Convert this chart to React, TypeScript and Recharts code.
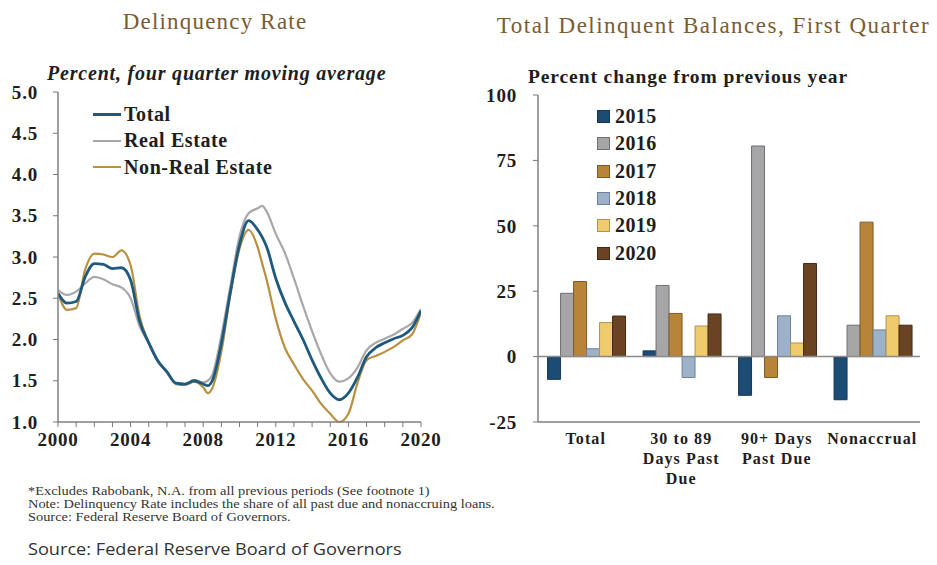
import React from 'react';
import { LineChart, Line, XAxis, YAxis, BarChart, Bar, ReferenceLine, Legend } from 'recharts';

// ---------- Left chart: Delinquency rate (percent, four quarter moving average) ----------
const periods = [
  2000, 2000.5, 2001, 2001.5, 2002, 2002.5, 2003, 2003.5, 2004, 2004.5,
  2005, 2005.5, 2006, 2006.5, 2007, 2007.5, 2008, 2008.25, 2008.5, 2009,
  2009.5, 2010, 2010.5, 2011, 2011.25, 2011.5, 2012, 2012.5, 2013, 2013.5,
  2014, 2014.5, 2015, 2015.5, 2016, 2016.5, 2017, 2017.5, 2018, 2018.5,
  2019, 2019.5, 2020,
];
const totalRate = [
  2.56, 2.44, 2.46, 2.76, 2.92, 2.91, 2.86, 2.87, 2.72, 2.22,
  1.96, 1.74, 1.61, 1.47, 1.46, 1.50, 1.46, 1.44, 1.50, 1.95,
  2.58, 3.15, 3.44, 3.33, 3.24, 3.12, 2.74, 2.45, 2.22, 2.00,
  1.75, 1.53, 1.35, 1.27, 1.35, 1.54, 1.79, 1.90, 1.96, 2.01,
  2.05, 2.14, 2.35,
];
const realEstateRate = [
  2.60, 2.54, 2.58, 2.68, 2.76, 2.73, 2.67, 2.63, 2.50, 2.16,
  1.96, 1.75, 1.60, 1.47, 1.46, 1.51, 1.48, 1.50, 1.57, 2.05,
  2.65, 3.25, 3.53, 3.59, 3.62, 3.55, 3.28, 3.05, 2.74, 2.41,
  2.10, 1.82, 1.59, 1.49, 1.53, 1.66, 1.87, 1.96, 2.01, 2.06,
  2.13, 2.20, 2.37,
];
const nonRealEstateRate = [
  2.56, 2.36, 2.38, 2.85, 3.04, 3.03, 3.00, 3.08, 2.90, 2.28,
  1.96, 1.74, 1.60, 1.46, 1.45, 1.49, 1.42, 1.35, 1.41, 1.85,
  2.55, 3.10, 3.33, 3.12, 2.92, 2.72, 2.25, 1.90, 1.70, 1.52,
  1.38, 1.22, 1.10, 1.00, 1.10, 1.47, 1.75, 1.80, 1.85, 1.91,
  1.99, 2.06, 2.33,
];
const yearTicks = [
  2000, 2001, 2002, 2003, 2004, 2005, 2006, 2007, 2008, 2009, 2010,
  2011, 2012, 2013, 2014, 2015, 2016, 2017, 2018, 2019, 2020,
];
const labeledYears = [2000, 2004, 2008, 2012, 2016, 2020];
const rateTicks = [1.0, 1.5, 2.0, 2.5, 3.0, 3.5, 4.0, 4.5, 5.0];
const lineSeries = [
  { key: 'total', name: 'Total', color: '#1d5a7e', width: 2.8 },
  { key: 'realEstate', name: 'Real Estate', color: '#a9a7ab', width: 2.2 },
  { key: 'nonRealEstate', name: 'Non-Real Estate', color: '#b89040', width: 2.2 },
];

// ---------- Right chart: Total delinquent balances, first quarter ----------
const categories = ['Total', '30 to 89 Days Past Due', '90+ Days Past Due', 'Nonaccrual'];
const categoryLabelLines = [['Total'], ['30 to 89', 'Days Past', 'Due'], ['90+ Days', 'Past Due'], ['Nonaccrual']];
const change2015 = [-8.7, 2.2, -14.8, -16.5];
const change2016 = [24.2, 27.2, 80.5, 12.0];
const change2017 = [28.7, 16.5, -8.0, 51.4];
const change2018 = [3.0, -8.0, 15.6, 10.2];
const change2019 = [13.0, 11.7, 5.2, 15.6];
const change2020 = [15.5, 16.3, 35.6, 12.0];
const changeTicks = [-25, 0, 25, 50, 75, 100];
const barSeries = [
  { key: 'y2015', name: '2015', values: change2015, color: '#1c4b74', stroke: '#15385a' },
  { key: 'y2016', name: '2016', values: change2016, color: '#a6a6a8', stroke: '#6f6f72' },
  { key: 'y2017', name: '2017', values: change2017, color: '#b8843a', stroke: '#7f5a25' },
  { key: 'y2018', name: '2018', values: change2018, color: '#9db2c9', stroke: '#6d8299' },
  { key: 'y2019', name: '2019', values: change2019, color: '#efcb6e', stroke: '#b0944c' },
  { key: 'y2020', name: '2020', values: change2020, color: '#6a4322', stroke: '#442a14' },
];

const rateData = periods.map((p, i) => ({
  year: p,
  total: totalRate[i],
  realEstate: realEstateRate[i],
  nonRealEstate: nonRealEstateRate[i],
}));

const balanceData = categories.map((c, i) => {
  const row: Record<string, any> = { category: c };
  barSeries.forEach((s) => {
    row[s.key] = s.values[i];
  });
  return row;
});

const SERIF = "'Liberation Serif', 'Times New Roman', serif";
const TEXT = '#1e1e1e';
const FRAME = '#9a9a9a';

const YearTick = (props: any) => {
  const { x, y, payload } = props;
  if (!labeledYears.includes(payload.value)) return null;
  return (
    <text x={x} y={y + 17} textAnchor="middle" fontFamily={SERIF} fontWeight="bold" fontSize={19} letterSpacing={0.8} fill={TEXT}>
      {payload.value}
    </text>
  );
};

const CategoryTick = (props: any) => {
  const { x, y, index } = props;
  const lines = categoryLabelLines[index] || [];
  return (
    <text x={x} y={y + 14} textAnchor="middle" fontFamily={SERIF} fontWeight="bold" fontSize={16} letterSpacing={1.1} fill={TEXT}>
      {lines.map((l: string, i: number) => (
        <tspan key={i} x={x} dy={i === 0 ? 0 : 20}>
          {l}
        </tspan>
      ))}
    </text>
  );
};

const LineLegend = () => (
  <div style={{ fontFamily: SERIF, fontWeight: 'bold', fontSize: 20, letterSpacing: 0.6, color: TEXT }}>
    {lineSeries.map((s) => (
      <div key={s.key} style={{ display: 'flex', alignItems: 'center', height: 26.5, whiteSpace: 'nowrap' }}>
        <span style={{ display: 'inline-block', width: 28, height: 0, borderTop: `${s.width + 0.3}px solid ${s.color}`, marginRight: 3 }} />
        <span>{s.name}</span>
      </div>
    ))}
  </div>
);

const BarLegend = () => (
  <div style={{ fontFamily: SERIF, fontWeight: 'bold', fontSize: 20, letterSpacing: 0.4, color: TEXT }}>
    {barSeries.map((s) => (
      <div key={s.key} style={{ display: 'flex', alignItems: 'center', height: 27.3 }}>
        <span
          style={{
            display: 'inline-block',
            width: 11,
            height: 11,
            background: s.color,
            border: `1px solid ${s.stroke}`,
            marginRight: 5,
          }}
        />
        <span>{s.name}</span>
      </div>
    ))}
  </div>
);

export default function App() {
  return (
    <div style={{ position: 'absolute', left: 0, top: 0, width: 937, height: 565, background: '#ffffff', overflow: 'hidden' }}>
      {/* Titles */}
      <div style={{ position: 'absolute', left: 0, top: 9, width: 430, textAlign: 'center', fontFamily: SERIF, fontSize: 23, letterSpacing: 1.2, color: '#7a5c33' }}>
        Delinquency Rate
      </div>
      <div style={{ position: 'absolute', left: 490, top: 13, width: 447, textAlign: 'center', fontFamily: SERIF, fontSize: 23, letterSpacing: 1.5, color: '#7a5c33', whiteSpace: 'nowrap' }}>
        Total Delinquent Balances, First Quarter
      </div>
      <div style={{ position: 'absolute', left: 47, top: 62, fontFamily: SERIF, fontStyle: 'italic', fontWeight: 'bold', fontSize: 20, letterSpacing: 0.8, color: TEXT, whiteSpace: 'nowrap' }}>
        Percent, four quarter moving average
      </div>
      <div style={{ position: 'absolute', left: 528, top: 66, fontFamily: SERIF, fontWeight: 'bold', fontSize: 19.5, letterSpacing: 0.9, color: TEXT, whiteSpace: 'nowrap' }}>
        Percent change from previous year
      </div>

      {/* Left line chart */}
      <div style={{ position: 'absolute', left: 0, top: 0 }}>
        <LineChart width={452} height={460} data={rateData} margin={{ top: 92, right: 31, bottom: 0, left: 0 }}>
          <XAxis
            dataKey="year"
            type="number"
            domain={[2000, 2020]}
            ticks={yearTicks}
            interval={0}
            tick={<YearTick />}
            tickSize={5}
            tickLine={{ stroke: '#777' }}
            axisLine={{ stroke: '#808080', strokeWidth: 1.5 }}
            height={38}
            allowDataOverflow
          />
          <XAxis xAxisId="top" orientation="top" type="number" domain={[2000, 2020]} tick={false} tickLine={false} axisLine={{ stroke: FRAME }} height={0} />
          <YAxis
            type="number"
            domain={[1, 5]}
            ticks={rateTicks}
            interval={0}
            width={58}
            tickSize={5}
            tickMargin={15}
            tickLine={{ stroke: '#777' }}
            axisLine={{ stroke: '#808080', strokeWidth: 1.5 }}
            tickFormatter={(v: number) => v.toFixed(1)}
            tick={{ fontFamily: SERIF, fontWeight: 'bold', fontSize: 19, letterSpacing: 0.8, fill: TEXT }}
          />
          <YAxis yAxisId="r" orientation="right" domain={[1, 5]} tick={false} tickLine={false} width={0} axisLine={{ stroke: FRAME }} />
          <Legend
            layout="vertical"
            align="center"
            verticalAlign="middle"
            content={<LineLegend />}
            wrapperStyle={{ position: 'absolute', left: 93, top: 101, width: 260 }}
          />
          {lineSeries
            .slice()
            .reverse()
            .map((s) => (
              <Line
                key={s.key}
                type="monotone"
                dataKey={s.key}
                name={s.name}
                stroke={s.color}
                strokeWidth={s.width}
                dot={false}
                isAnimationActive={false}
              />
            ))}
        </LineChart>
      </div>

      {/* Right bar chart */}
      <div style={{ position: 'absolute', left: 440, top: 0 }}>
        <BarChart width={497} height={500} data={balanceData} margin={{ top: 95, right: 17, bottom: 0, left: 0 }} barCategoryGap="10%" barGap={0}>
          <XAxis dataKey="category" interval={0} tick={<CategoryTick />} tickLine={false} axisLine={{ stroke: '#808080', strokeWidth: 1.5 }} height={78} />
          <XAxis xAxisId="top" dataKey="category" orientation="top" tick={false} tickLine={false} axisLine={{ stroke: FRAME }} height={0} />
          <YAxis
            type="number"
            domain={[-25, 100]}
            ticks={changeTicks}
            interval={0}
            width={98}
            tickSize={5}
            tickMargin={16}
            tickLine={{ stroke: '#777' }}
            axisLine={{ stroke: '#808080', strokeWidth: 1.5 }}
            tick={{ fontFamily: SERIF, fontWeight: 'bold', fontSize: 19, letterSpacing: 0.8, fill: TEXT }}
          />
          <YAxis yAxisId="r" orientation="right" domain={[-25, 100]} tick={false} tickLine={false} width={0} axisLine={{ stroke: FRAME }} />
          <ReferenceLine y={0} stroke="#8a8a8a" strokeWidth={1.5} />
          <Legend
            layout="vertical"
            align="center"
            verticalAlign="middle"
            content={<BarLegend />}
            wrapperStyle={{ position: 'absolute', left: 157, top: 103, width: 100 }}
          />
          {barSeries.map((s) => (
            <Bar key={s.key} dataKey={s.key} name={s.name} fill={s.color} stroke={s.stroke} strokeWidth={1} isAnimationActive={false} />
          ))}
        </BarChart>
      </div>

      {/* Notes */}
      <div style={{ position: 'absolute', left: 28, top: 485, fontFamily: SERIF, fontSize: 11.5, lineHeight: '13px', color: '#333', whiteSpace: 'nowrap', transform: 'scaleX(1.25)', transformOrigin: 'left top' }}>
        <div>*Excludes Rabobank, N.A. from all previous periods (See footnote 1)</div>
        <div>Note: Delinquency Rate includes the share of all past due and nonaccruing loans.</div>
        <div>Source: Federal Reserve Board of Governors.</div>
      </div>
      <div style={{ position: 'absolute', left: 28, top: 537, fontFamily: "'Open Sans', 'Liberation Sans', sans-serif", fontSize: 16.5, color: '#333', whiteSpace: 'nowrap', transform: 'scaleX(1.1)', transformOrigin: 'left top' }}>
        Source: Federal Reserve Board of Governors
      </div>
    </div>
  );
}
